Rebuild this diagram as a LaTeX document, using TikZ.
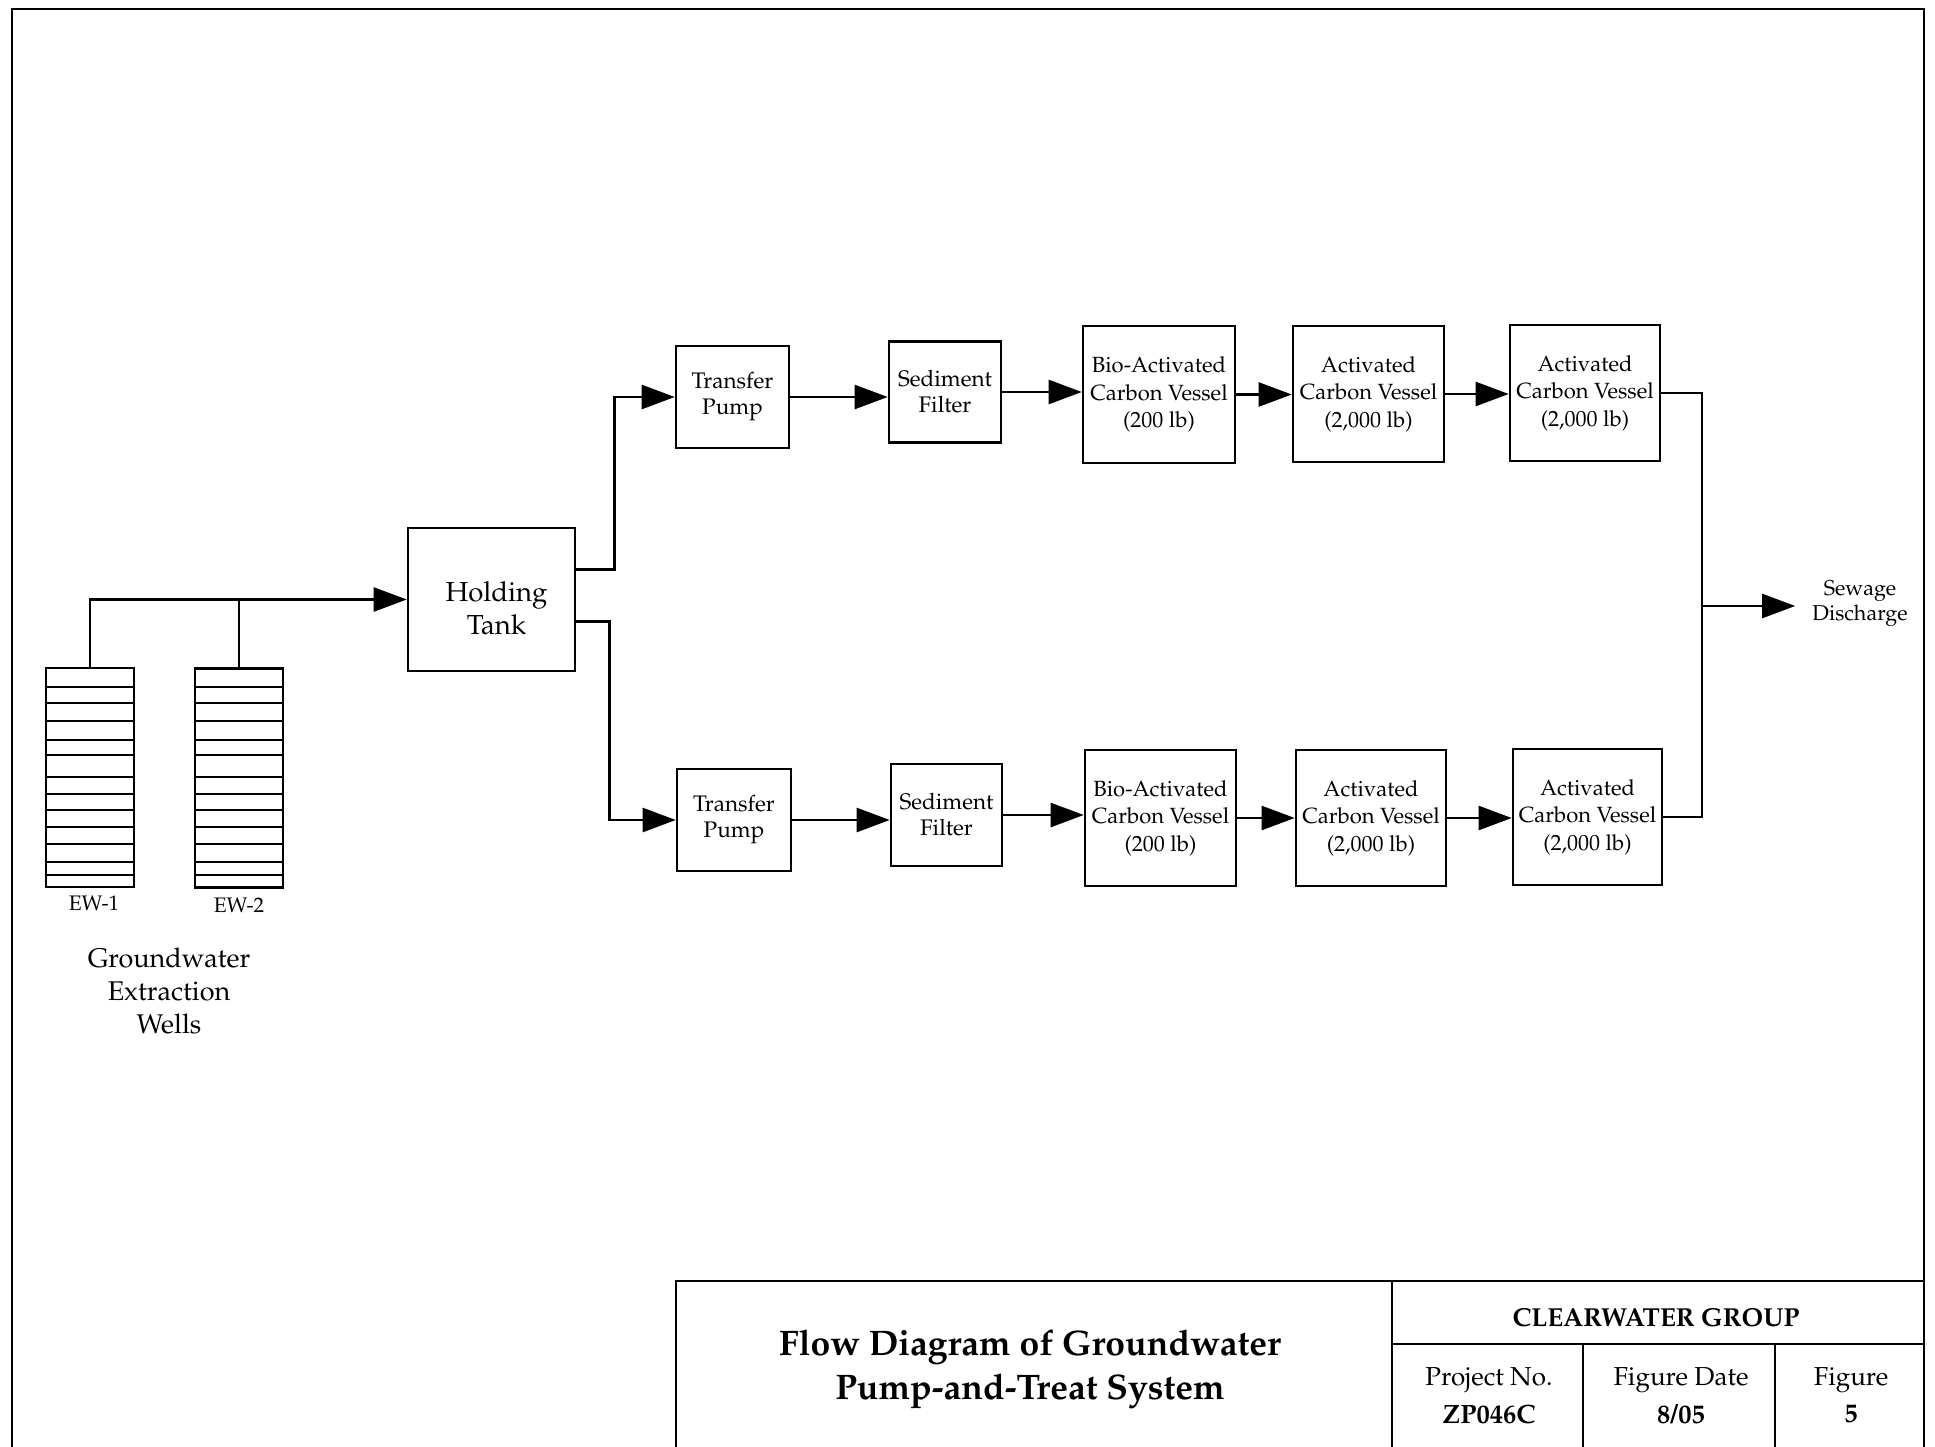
\documentclass[tikz,border=0pt]{standalone}
\usepackage[T1]{fontenc}
\renewcommand{\rmdefault}{ppl}
\usetikzlibrary{arrows.meta,calc}
\begin{document}
\begin{tikzpicture}[x=1pt,y=-1pt,
  box/.style={draw, line width=2.6pt, align=center, inner sep=0pt, font=\fontsize{22}{27.5}\selectfont},
  pbox/.style={box, font=\fontsize{22.5}{26}\selectfont},
  conn/.style={line width=2.4pt},
  arr/.style={conn, -{Triangle[length=33pt,width=24pt]}},
  frameline/.style={line width=2.4pt},
  wellbox/.style={draw, line width=2.4pt, inner sep=0pt, minimum width=88pt, minimum height=219pt},
  lbl/.style={align=center, inner sep=0pt}]
\useasboundingbox (0,0) rectangle (1935,1447);

% outer frame
\draw[frameline] (12,1447) -- (12,9) -- (1924,9) -- (1924,1447);

% wells
\node[wellbox] (well1) at (90,777.5) {};
\node[wellbox] (well2) at (239,778) {};
\foreach \y in {687,703,721,740,755,777,794,810,827,844,862,875}{
  \draw[line width=2pt] (well1.west |- 0,\y) -- (well1.east |- 0,\y);
  \draw[line width=2pt] (well2.west |- 0,\y) -- (well2.east |- 0,\y);
}
\node[lbl, font=\fontsize{21}{24}\selectfont] (ew1) at (94,903) {EW-1};
\node[lbl, font=\fontsize{21}{24}\selectfont] (ew2) at (239,905) {EW-2};
\node[lbl, font=\fontsize{27}{33}\selectfont] (gwlbl) at (169,991) {Groundwater\\Extraction\\Wells};

% holding tank
\node[box, minimum width=167pt, minimum height=143pt] (tank) at (491.5,599.5) {};
\node[lbl, font=\fontsize{27.5}{33}\selectfont] (tanklbl) at ([xshift=5pt,yshift=-9pt]tank.center) {Holding\\Tank};

% top train
\node[pbox, minimum width=113pt, minimum height=102pt] (tp1) at (732.5,397) {Transfer\\Pump};
\node[pbox, minimum width=112pt, minimum height=101pt] (sf1) at (945,392) {Sediment\\Filter};
\node[box, minimum width=152pt, minimum height=137pt] (bio1) at (1159,394.5) {Bio-Activated\\Carbon Vessel\\(200 lb)};
\node[box, minimum width=151pt, minimum height=136pt] (act1a) at (1368.5,394) {Activated\\Carbon Vessel\\(2,000 lb)};
\node[box, minimum width=150pt, minimum height=136pt] (act1b) at (1585,393) {Activated\\Carbon Vessel\\(2,000 lb)};

% bottom train
\node[pbox, minimum width=114pt, minimum height=102pt] (tp2) at (734,820) {Transfer\\Pump};
\node[pbox, minimum width=111pt, minimum height=102pt] (sf2) at (946.5,815) {Sediment\\Filter};
\node[box, minimum width=151pt, minimum height=136pt] (bio2) at (1160.5,818) {Bio-Activated\\Carbon Vessel\\(200 lb)};
\node[box, minimum width=150pt, minimum height=136pt] (act2a) at (1371,818) {Activated\\Carbon Vessel\\(2,000 lb)};
\node[box, minimum width=149pt, minimum height=136pt] (act2b) at (1587.5,817) {Activated\\Carbon Vessel\\(2,000 lb)};

% sewage
\node[lbl, inner xsep=17pt, font=\fontsize{21.5}{25}\selectfont] (sew) at (1860,604) {Sewage\\Discharge};
\coordinate (mrg) at (1702,606);

% connectors
\draw[arr] (well1.north) |- (tank.west);
\draw[conn] (well2.north) -- (well2.north |- tank.west);
\draw[arr] ([yshift=30pt]tank.east) -- ++(38,0) |- (tp1.west);
\draw[arr] ([yshift=-22pt]tank.east) -- ++(33,0) |- (tp2.west);

\draw[arr] (tp1.east) -- (tp1.east -| sf1.west);
\draw[arr] (sf1.east) -- (sf1.east -| bio1.west);
\draw[arr] (bio1.east) -- (bio1.east -| act1a.west);
\draw[arr] (act1a.east) -- (act1a.east -| act1b.west);

\draw[arr] (tp2.east) -- (tp2.east -| sf2.west);
\draw[arr] (sf2.east) -- (sf2.east -| bio2.west);
\draw[arr] (bio2.east) -- (bio2.east -| act2a.west);
\draw[arr] (act2a.east) -- (act2a.east -| act2b.west);

\draw[conn] (act1b.east) -| (mrg);
\draw[conn] (act2b.east) -| (mrg);
\draw[arr] (mrg) -- (mrg -| sew.west);

% title block
\draw[frameline] (676,1447) -- (676,1281) -- (1924,1281);
\draw[frameline] (1392,1281) -- (1392,1447);
\draw[frameline] (1392,1344) -- (1924,1344);
\draw[frameline] (1583,1344) -- (1583,1447);
\draw[frameline] (1775,1344) -- (1775,1447);

\node[lbl, font=\bfseries\fontsize{35.5}{44}\selectfont] (title) at (1030,1369) {Flow Diagram of Groundwater\\Pump-and-Treat System};
\node[lbl, font=\bfseries\fontsize{26}{30}\selectfont] (company) at (1656,1318) {CLEARWATER GROUP};
\node[lbl, font=\fontsize{26}{30}\selectfont] (projlbl) at (1489,1380) {Project No.};
\node[lbl, font=\bfseries\fontsize{26.5}{30}\selectfont] (projval) at (1489,1414) {ZP046C};
\node[lbl, font=\fontsize{26}{30}\selectfont] (datelbl) at (1681,1380) {Figure Date};
\node[lbl, font=\bfseries\fontsize{26.5}{30}\selectfont] (dateval) at (1681,1414) {8/05};
\node[lbl, font=\fontsize{26}{30}\selectfont] (figlbl) at (1851,1380) {Figure};
\node[lbl, font=\bfseries\fontsize{26.5}{30}\selectfont] (figval) at (1851,1414) {5};
\end{tikzpicture}
\end{document}
